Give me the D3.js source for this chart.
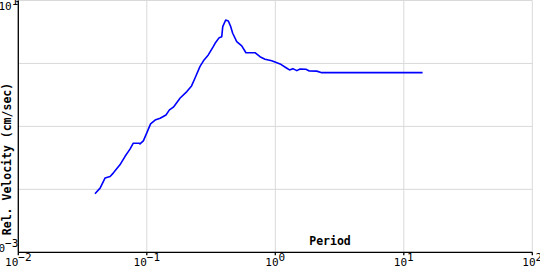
<!DOCTYPE html>
<html>
<head>
<meta charset="utf-8">
<script src="https://cdn.jsdelivr.net/npm/d3@7"></script>
<style>
  body { margin: 0; background: #fff; }
  svg { display: block; }
</style>
</head>
<body>
<svg id="chart" width="540" height="270"></svg>
<script>
// period (sec) and relative velocity (cm/sec)
var periods = [0.0395, 0.0433, 0.0473, 0.0518, 0.0548, 0.0566, 0.0618, 0.0676, 0.074, 0.0785,
  0.0875, 0.0885, 0.094, 0.0998, 0.107, 0.116, 0.127, 0.141, 0.150, 0.161,
  0.176, 0.181, 0.205, 0.223, 0.237, 0.259, 0.279, 0.301, 0.329, 0.340,
  0.366, 0.383, 0.390, 0.411, 0.431, 0.450, 0.466, 0.501, 0.548, 0.591,
  0.695, 0.760, 0.832, 0.938, 1.09, 1.23, 1.29, 1.37, 1.47, 1.56,
  1.73, 1.84, 2.10, 2.30, 14.0];
var velocities = [0.0085, 0.01045, 0.0151, 0.01596, 0.0181, 0.0197, 0.0245, 0.0332, 0.0435, 0.0541,
  0.0541, 0.0527, 0.0589, 0.078, 0.1096, 0.126, 0.135, 0.152, 0.183, 0.202,
  0.257, 0.280, 0.357, 0.440, 0.582, 0.889, 1.137, 1.364, 1.85, 2.09,
  2.57, 2.66, 3.84, 4.90, 4.73, 3.84, 3.02, 2.22, 1.90, 1.48,
  1.48, 1.28, 1.17, 1.10, 0.982, 0.839, 0.789, 0.827, 0.769, 0.818,
  0.81, 0.760, 0.755, 0.714, 0.714];
var xDomain = [0.01, 100];
var yDomain = [0.001, 10];
var xTickExps = [-2, -1, 0, 1, 2];
var yTickExps = [-3, -2, -1, 0, 1];
var yLabelExps = [-3, 1];
var xTitle = 'Period';
var yTitle = 'Rel. Velocity (cm/sec)';

var data = periods.map(function(p, i) { return { p: p, v: velocities[i] }; });

var svg = d3.select('#chart');
var pLeft = 18.3, pRight = 532.3, pTop = 0.5, pBottom = 252.3;

var x = d3.scaleLog().domain(xDomain).range([pLeft, pRight]);
var y = d3.scaleLog().domain(yDomain).range([pBottom, pTop]);

// grid
var grid = svg.append('g').attr('stroke', '#d9d9d9').attr('stroke-width', 1);
xTickExps.forEach(function(e) {
  grid.append('line')
    .attr('x1', x(Math.pow(10, e))).attr('x2', x(Math.pow(10, e)))
    .attr('y1', pTop).attr('y2', pBottom);
});
yTickExps.forEach(function(e) {
  grid.append('line')
    .attr('x1', pLeft).attr('x2', pRight)
    .attr('y1', y(Math.pow(10, e))).attr('y2', y(Math.pow(10, e)));
});

// curve
var line = d3.line()
  .x(function(d) { return x(d.p); })
  .y(function(d) { return y(d.v); });
svg.append('path')
  .datum(data)
  .attr('d', line)
  .attr('fill', 'none')
  .attr('stroke', '#0000ff')
  .attr('stroke-width', 1.6)
  .attr('stroke-linejoin', 'round');

// axes
var axes = svg.append('g').attr('stroke', '#000').attr('stroke-width', 1.3);
axes.append('line').attr('x1', pLeft).attr('x2', pLeft).attr('y1', pTop).attr('y2', pBottom);
axes.append('line').attr('x1', pLeft).attr('x2', pRight).attr('y1', pBottom).attr('y2', pBottom);
xTickExps.forEach(function(e) {
  axes.append('line')
    .attr('x1', x(Math.pow(10, e))).attr('x2', x(Math.pow(10, e)))
    .attr('y1', pBottom).attr('y2', pBottom + 3);
});
axes.append('line').attr('x1', pLeft - 2).attr('x2', pLeft).attr('y1', pTop + 1).attr('y2', pTop + 1);

var font = '"DejaVu Sans Mono", "Liberation Mono", monospace';

// x tick labels
xTickExps.forEach(function(e) {
  var t = svg.append('text')
    .attr('x', x(Math.pow(10, e)))
    .attr('y', 266)
    .attr('text-anchor', 'middle')
    .attr('font-family', font)
    .attr('font-size', 11)
    .attr('fill', '#000');
  t.append('tspan').text('10');
  t.append('tspan').attr('dy', -5).text(String(e).replace('-', '\u2212'));
});

// y tick labels (ends only)
yLabelExps.forEach(function(e) {
  var t = svg.append('text')
    .attr('x', pLeft)
    .attr('y', e === 1 ? 10 : pBottom)
    .attr('text-anchor', 'end')
    .attr('font-family', font)
    .attr('font-size', 11)
    .attr('fill', '#000');
  t.append('tspan').text('10');
  t.append('tspan').attr('dy', -5).text(String(e).replace('-', '\u2212'));
});

// titles
svg.append('text')
  .attr('x', 330)
  .attr('y', 245)
  .attr('text-anchor', 'middle')
  .attr('font-family', font)
  .attr('font-weight', 'bold')
  .attr('font-size', 11.5)
  .text(xTitle);

svg.append('text')
  .attr('transform', 'translate(11,159) rotate(-90)')
  .attr('text-anchor', 'middle')
  .attr('font-family', font)
  .attr('font-weight', 'bold')
  .attr('font-size', 11.5)
  .text(yTitle);
</script>
</body>
</html>
